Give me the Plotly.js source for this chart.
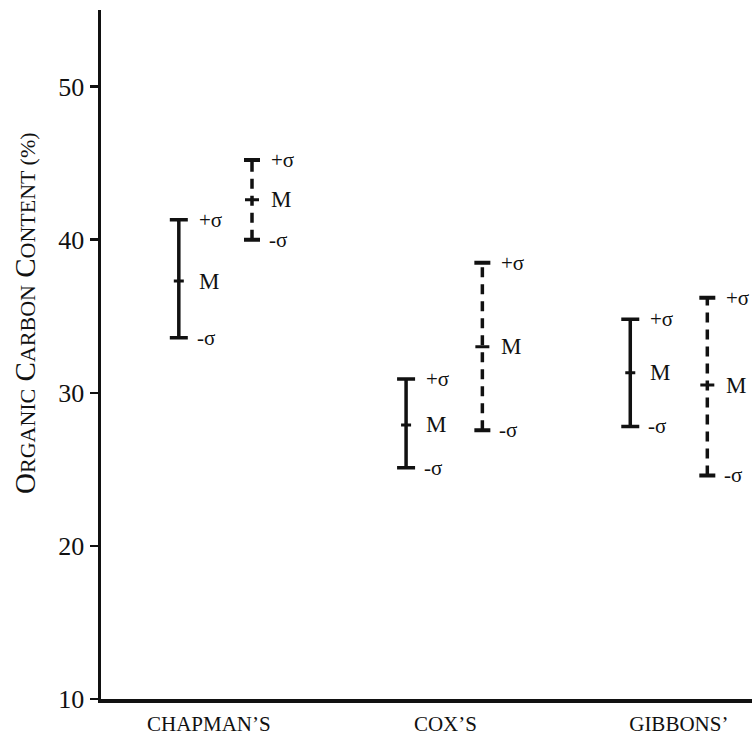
<!DOCTYPE html>
<html><head><meta charset="utf-8">
<script src="https://cdn.plot.ly/plotly-3.0.1.min.js"></script>
<style>body{margin:0;background:#fff}#c{width:756px;height:741px}</style>
</head><body><div id="c"></div>
<script>
const groups = ["CHAPMAN’S", "COX’S", "GIBBONS’"];
const groupLabelX = [1.40, 4.47, 7.50];
const solidX = [1.01, 3.96, 6.87];
const dashedX = [1.96, 4.95, 7.87];
const solidPlus = [41.3, 30.9, 34.8];
const solidMean = [37.3, 27.9, 31.3];
const solidMinus = [33.6, 25.1, 27.8];
const dashedPlus = [45.2, 38.5, 36.2];
const dashedMean = [42.6, 33.0, 30.5];
const dashedMinus = [40.0, 27.55, 24.6];
const yTicks = [10, 20, 30, 40, 50];

const INK = '#111';
const diff = (a, b) => a.map((v, i) => +(v - b[i]).toFixed(3));
const zeros = n => new Array(n).fill(0);

function capTrace(xs, ys, halfWidth, thick) {
  return {
    type: 'scatter', mode: 'markers', x: xs, y: ys,
    marker: {size: 1, opacity: 0},
    error_y: {type: 'data', array: zeros(ys.length), symmetric: true,
      width: halfWidth, thickness: thick, color: INK},
    hoverinfo: 'skip', showlegend: false
  };
}

function dashedLine(xs, top, bottom) {
  const x = [], y = [];
  xs.forEach((xv, i) => { x.push(xv, xv, null); y.push(bottom[i], top[i], null); });
  return {type: 'scatter', mode: 'lines', x: x, y: y, connectgaps: false,
    line: {color: INK, width: 3.5, dash: '10px,7px'}, hoverinfo: 'skip', showlegend: false};
}

const traces = [
  {type: 'scatter', mode: 'markers', x: solidX, y: solidMean,
   marker: {size: 1, opacity: 0},
   error_y: {type: 'data', symmetric: false, array: diff(solidPlus, solidMean),
     arrayminus: diff(solidMean, solidMinus), width: 9, thickness: 3.5, color: INK},
   hoverinfo: 'skip', showlegend: false},
  capTrace(solidX, solidMean, 5, 3),
  dashedLine(dashedX, dashedPlus, dashedMinus),
  capTrace(dashedX.concat(dashedX), dashedPlus.concat(dashedMinus), 8, 4),
  capTrace(dashedX, dashedMean, 7, 3)
];

const annotations = [];
function addLabels(xs, plus, mean, minus, shift) {
  xs.forEach((xv, i) => {
    [[plus[i], '+σ', 21, 0], [mean[i], 'M', 23, 0], [minus[i], '-σ', 21, -2]].forEach(([yv, t, fs, extra]) => {
      annotations.push({x: xv, y: yv, xref: 'x', yref: 'y', text: t, showarrow: false,
        xanchor: 'left', yanchor: 'middle', xshift: shift + extra,
        font: {family: 'Liberation Serif, serif', size: fs, color: INK}});
    });
  });
}
addLabels(solidX, solidPlus, solidMean, solidMinus, 18);
addLabels(dashedX, dashedPlus, dashedMean, dashedMinus, 17);

const sm = (t) => "<span style='font-size:22px'>" + t + "</span>";
annotations.push({
  xref: 'paper', yref: 'paper', x: -0.117, y: 0.56, textangle: -90, showarrow: false,
  xanchor: 'center', yanchor: 'middle',
  text: 'O' + sm('RGANIC') + ' C' + sm('ARBON') + ' C' + sm('ONTENT') + sm(' (%)'),
  font: {family: 'Liberation Serif, serif', size: 29, color: INK}
});

const layout = {
  width: 756, height: 741,
  margin: {l: 101, r: 4, t: 10, b: 42},
  paper_bgcolor: '#fff', plot_bgcolor: '#fff',
  xaxis: {range: [0, 8.45], showgrid: false, zeroline: false, showline: true,
    linecolor: INK, linewidth: 3.5, ticks: '', tickvals: groupLabelX, ticktext: groups,
    ticklabelstandoff: 3,
    tickfont: {family: 'Liberation Serif, serif', size: 21, color: INK}},
  yaxis: {range: [10, 55], showgrid: false, zeroline: false, showline: true,
    linecolor: INK, linewidth: 3.5, ticks: 'outside', ticklen: 8, tickwidth: 2.5,
    tickcolor: INK, tickvals: yTicks,
    tickfont: {family: 'Liberation Serif, serif', size: 26, color: INK}},
  annotations: annotations,
  showlegend: false
};

Plotly.newPlot('c', traces, layout, {displayModeBar: false, staticPlot: true});
</script></body></html>
